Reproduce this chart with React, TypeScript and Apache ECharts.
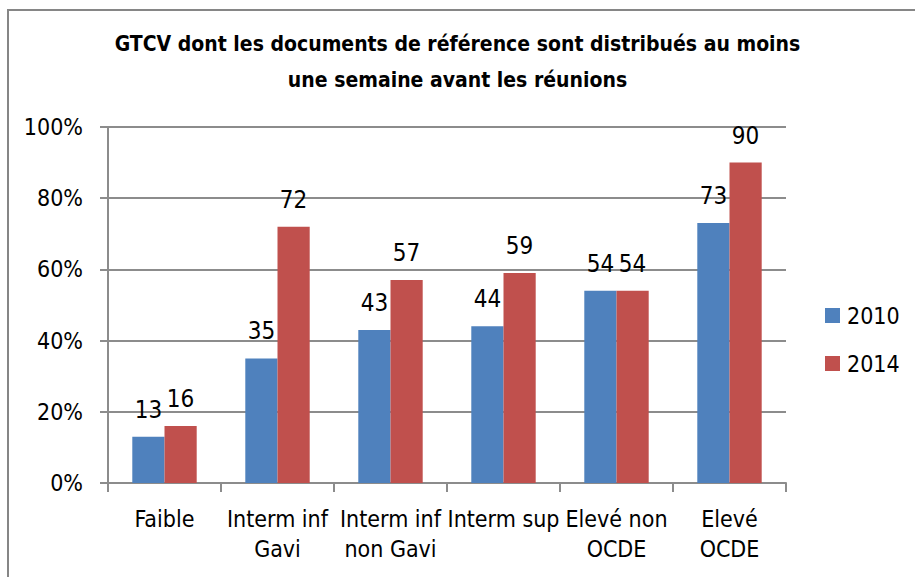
import React, { useEffect, useRef } from "react";
import * as echarts from "echarts";

const categories = ["Faible", "Interm inf\nGavi", "Interm inf\nnon Gavi", "Interm sup", "Elevé non\nOCDE", "Elevé\nOCDE"];
const values2010 = [13, 35, 43, 44, 54, 73];
const values2014 = [16, 72, 57, 59, 54, 90];
const yTicks = [0, 20, 40, 60, 80, 100];
const titleText = "GTCV dont les documents de référence sont distribués au moins\nune semaine avant les réunions";

const FONT = "'Liberation Sans Narrow', 'DejaVu Sans Condensed', 'Liberation Sans', Arial, sans-serif";

export default function App() {
  const ref = useRef<HTMLDivElement>(null);
  useEffect(() => {
    if (!ref.current) return;
    const chart = echarts.init(ref.current, null, { renderer: "svg" });
    chart.setOption({
      animation: false,
      backgroundColor: "#ffffff",
      textStyle: { fontFamily: FONT },
      title: {
        text: titleText,
        left: "center",
        top: 26,
        padding: 0,
        textStyle: { fontFamily: FONT, fontSize: 21, fontWeight: "bold", color: "#000", lineHeight: 36 },
      },
      legend: {
        orient: "vertical",
        left: 825,
        top: 304,
        padding: 0,
        itemWidth: 15,
        itemHeight: 15,
        itemGap: 25,
        icon: "rect",
        textStyle: { fontFamily: FONT, fontSize: 23, color: "#000", padding: [0, 0, 0, 2] },
        data: ["2010", "2014"],
      },
      grid: { left: 108, right: 129, top: 127, bottom: 94, containLabel: false },
      xAxis: {
        type: "category",
        data: categories,
        axisLine: { lineStyle: { color: "#8c8c8c", width: 2 } },
        axisTick: { show: true, length: 9, lineStyle: { color: "#8c8c8c", width: 2 } },
        axisLabel: { color: "#000", fontSize: 23, fontFamily: FONT, lineHeight: 30, margin: 21, interval: 0 },
      },
      yAxis: {
        type: "value",
        min: 0,
        max: 100,
        interval: 20,
        axisLine: { show: true, lineStyle: { color: "#8c8c8c", width: 2 } },
        axisTick: { show: true, length: 8, lineStyle: { color: "#8c8c8c", width: 2 } },
        splitLine: { lineStyle: { color: "#8c8c8c", width: 2 } },
        axisLabel: {
          color: "#000",
          fontSize: 23,
          fontFamily: FONT,
          margin: 25,
          formatter: (v: number) => (yTicks.includes(v) ? v + "%" : ""),
        },
      },
      series: [
        {
          name: "2010",
          type: "bar",
          data: values2010,
          barGap: "0%",
          barCategoryGap: "43%",
          itemStyle: { color: "#4F81BD" },
          label: { show: true, position: "top", distance: 15, color: "#000", fontSize: 24, fontFamily: FONT },
        },
        {
          name: "2014",
          type: "bar",
          data: values2014,
          barGap: "0%",
          barCategoryGap: "43%",
          itemStyle: { color: "#C0504D" },
          label: { show: true, position: "top", distance: 15, color: "#000", fontSize: 24, fontFamily: FONT },
        },
      ],
    });
    return () => chart.dispose();
  }, []);
  return (
    <div style={{ position: "fixed", left: 0, top: 0, width: 915, height: 577, overflow: "hidden", background: "#fff" }}>
      <div ref={ref} style={{ position: "absolute", left: 0, top: 0, width: 915, height: 577 }} />
      <div
        style={{
          position: "absolute",
          left: 7,
          top: 9,
          width: 1000,
          height: 1000,
          borderLeft: "2px solid #868686",
          borderTop: "2px solid #868686",
          pointerEvents: "none",
        }}
      />
    </div>
  );
}
